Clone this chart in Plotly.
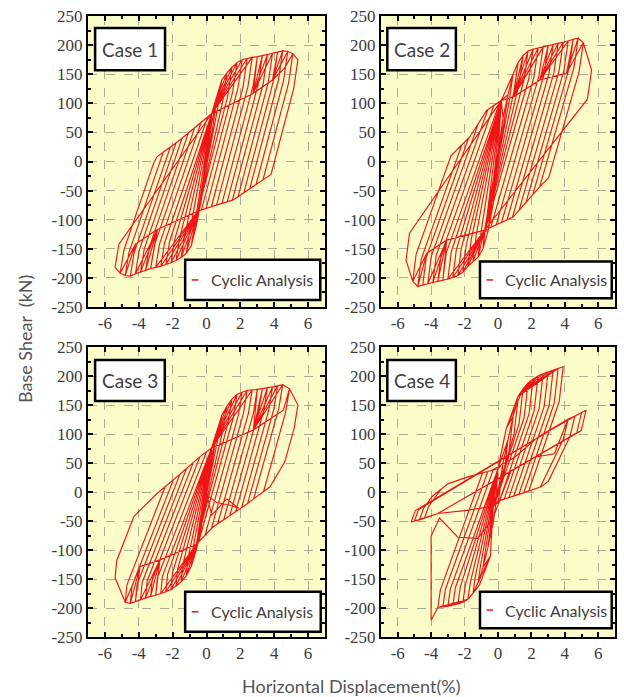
import plotly.graph_objects as go

# ---------------- data ----------------
# Case 1
c1_amp_pos = [0.3, 0.6, 0.9, 1.2, 1.5, 1.8, 2.1, 2.4, 2.7, 3.0, 3.3, 3.6, 3.9, 4.2, 4.5, 4.8, 5.1, 5.4]
c1_f_pos = [65, 105, 140, 152, 162, 170, 175, 177, 179, 180, 182, 184, 186, 188, 190, 189, 185, 175]
c1_amp_neg = [0.3, 0.6, 0.9, 1.2, 1.5, 1.8, 2.1, 2.4, 2.7, 3.0, 3.3, 3.6, 3.9, 4.2, 4.5, 4.8, 5.1, 5.4]
c1_f_neg = [-65, -110, -145, -158, -165, -170, -174, -177, -180, -182, -184, -187, -190, -193, -197, -196, -192, -182]
c1_pinch_pos = (0.3, 82)
c1_pinch_neg = (-0.5, -85)
c1_unl_pos = (200, 50, 110)   # initial slope, force drop of the initial part, later slope
c1_unl_neg = (180, 40, 85)
c1_bound_pos = [(5.2, 20), (3.93, -20), (1.57, -66), (-0.5, -85)]
c1_bound_neg = [(-4.4, -85), (-3.93, -49), (-2.93, 8), (-1.57, 37), (-0.38, 66), (0.3, 82)]
c1_inner_pos = [(2.75, 117), (3.9, 140), (4.6, 160)]
c1_inner_neg = [(-2.9, -117), (-4.2, -142), (-4.9, -165)]

# Case 2
c2_amp_pos = [0.3, 0.6, 0.9, 1.2, 1.5, 1.8, 2.1, 2.4, 2.7, 3.0, 3.3, 3.6, 3.9, 4.2, 4.5, 4.8, 5.1, 5.6]
c2_f_pos = [75, 115, 150, 170, 182, 190, 193, 195, 197, 199, 201, 203, 205, 207, 210, 212, 204, 157]
c2_amp_neg = [0.3, 0.6, 0.9, 1.2, 1.5, 1.8, 2.1, 2.4, 2.7, 3.0, 3.3, 3.6, 3.9, 4.2, 4.5, 4.8, 5.1, 5.5]
c2_f_neg = [-75, -120, -150, -165, -172, -180, -190, -196, -199, -202, -204, -206, -208, -210, -212, -215, -206, -170]
c2_pinch_pos = (0.2, 105)
c2_pinch_neg = (-0.8, -118)
c2_unl_pos = (200, 50, 100)
c2_unl_neg = (230, 47, 81)
c2_bound_pos = [(4.71, 48), (3.9, -3), (2.5, -43), (0.92, -95), (-0.8, -118)]
c2_bound_neg = [(-5.26, -123), (-4.27, -43), (-3.47, -9), (-2.87, 8), (-1.67, 43), (-0.67, 88), (0.2, 105)]
c2_inner_pos = [(0.92, 111), (2.5, 140), (4.1, 152)]
c2_inner_neg = [(-3.07, -135), (-4.27, -158)]

# Case 3
c3_amp_pos = [0.3, 0.6, 0.9, 1.2, 1.5, 1.8, 2.1, 2.4, 2.7, 3.0, 3.3, 3.6, 3.9, 4.2, 4.5, 4.9, 5.4]
c3_f_pos = [60, 100, 132, 148, 160, 168, 172, 175, 176, 177, 178, 180, 181, 183, 185, 178, 150]
c3_amp_neg = [0.3, 0.6, 0.9, 1.2, 1.5, 1.8, 2.1, 2.4, 2.7, 3.0, 3.3, 3.6, 3.9, 4.2, 4.5, 4.8, 5.4]
c3_f_neg = [-60, -100, -128, -145, -155, -162, -168, -172, -175, -178, -180, -183, -186, -189, -192, -190, -148]
c3_pinch_pos = (0.3, 76)
c3_pinch_neg = (-0.6, -90)
c3_unl_pos = (180, 40, 105)
c3_unl_neg = (300, 30, 75)
c3_bound_pos = [(4.93, 67), (3.75, 9), (2.18, -25), (0.4, -60), (-0.6, -90)]
c3_bound_neg = [(-5.3, -117), (-4.32, -43), (-2.94, -3), (-1.96, 21), (-0.38, 61), (0.3, 76)]
c3_inner_pos = [(2.77, 107), (4.54, 141)]
c3_inner_neg = [(-2.75, -117), (-3.93, -129), (-5.1, -152)]
# Case 3: small loop below the origin
c3_notch_d = [0.0, 0.6, 1.3, 1.9, 1.2, 0.3]
c3_notch_f = [-5, -18, -22, -28, -12, -40]

# Case 4 (cycles before the strength drop)
c4_amp_pos = [0.3, 0.6, 0.9, 1.2, 1.5, 1.8, 2.1, 2.4, 2.7, 3.0, 3.3, 3.6, 3.9]
c4_f_pos = [50, 90, 130, 160, 178, 188, 195, 200, 204, 207, 210, 213, 216]
c4_amp_neg = [0.3, 0.6, 0.9, 1.2, 1.5, 1.8, 2.1, 2.4, 2.7, 3.0, 3.3, 3.6, 4.0]
c4_f_neg = [-55, -95, -130, -158, -175, -185, -190, -193, -195, -197, -198, -199, -221]
c4_pinch_pos = (0.0, 40)
c4_pinch_neg = (-0.3, -25)
c4_unl_pos = (250, 60, 85)
c4_unl_neg = (200, 30, 80)
c4_bound_pos = [(3.37, 26), (2.58, 9), (1.38, -3), (0.18, -14), (-0.3, -25)]
c4_bound_neg = [(-3.0, 14), (-1.8, 26), (-0.4, 37), (0.0, 40)]
c4_inner_pos = [(0.5, 110), (1.2, 165)]
c4_inner_neg = [(-0.45, -110), (-1.1, -160), (-1.8, -185)]
# Case 4: strength drop at -4 % and the following path
c4_drop_d = [-4.0, -3.5, -2.4, -1.2, -0.3, 0.78, 2.18, 3.37]
c4_drop_f = [-76, -45, -78, -80, -45, 37, 60, 66]
# Case 4: cycles after the strength drop
c4p_amp_pos = [4.2, 4.6, 5.0, 5.27]
c4p_f_pos = [126, 131, 137, 141]
c4p_amp_neg = [4.4, 4.7, 5.0, 5.2]
c4p_f_neg = [-45, -48, -50, -52]
c4p_pinch_pos = (3.8, 118)
c4p_pinch_neg = (-3.6, -37)
c4p_unl_pos = (120, 35, 60)
c4p_unl_neg = (80, 20, 40)
c4p_bound_pos = [(3.37, 26), (2.58, 9), (1.38, -3), (0.18, -14), (-0.62, -26), (-2.0, -32), (-3.6, -37)]
c4p_bound_neg = [(-4.0, -9), (-3.0, 14), (-1.8, 26), (-0.4, 37), (1.0, 60), (2.4, 95), (3.8, 118)]

case_labels = ["Case 1", "Case 2", "Case 3", "Case 4"]
legend_label = "Cyclic Analysis"
x_ticks = [-6, -4, -2, 0, 2, 4, 6]
y_ticks = [-250, -200, -150, -100, -50, 0, 50, 100, 150, 200, 250]


def unload(d0, f0, unl, side, boundary, pinch):
    """Bilinear unloading branch from a peak until it meets the boundary
    polyline (ordered outer -> pinch), then along it to the pinch."""
    k1, df1, k2 = unl
    dk = d0 - side * df1 / k1
    fk = f0 - side * df1
    pts = [(dk, fk)]
    for j in range(len(boundary) - 1):
        (xa, ya), (xb, yb) = boundary[j], boundary[j + 1]
        den = (yb - ya) - k2 * (xb - xa)
        if den == 0:
            continue
        t = (fk + k2 * (xa - dk) - ya) / den
        if 0 <= t <= 1:
            xi = xa + t * (xb - xa)
            yi = ya + t * (yb - ya)
            if (side > 0 and xi < dk) or (side < 0 and xi > dk):
                return pts + [(xi, yi)] + list(boundary[j + 1:])
    pts.append(pinch)
    return pts


def build_loop(amp_pos, f_pos, amp_neg, f_neg, p_pos, p_neg, unl_pos, unl_neg,
               b_pos, b_neg, inner_pos, inner_neg, last_unload=True, start=(0.0, 0.0)):
    xs, ys = [], []
    if start is not None:
        xs.append(start[0]); ys.append(start[1])
    n = len(amp_pos)
    for i in range(n):
        a, fp = amp_pos[i], f_pos[i]
        if i > 0:
            ap, fpp = amp_pos[i - 1], f_pos[i - 1]
            for d, f in inner_pos:
                if d < ap - 0.2:
                    xs.append(d); ys.append(f)
            xs.append(ap); ys.append(fpp)
        xs.append(a); ys.append(fp)
        for d, f in unload(a, fp, unl_pos, 1, b_pos, p_neg):
            xs.append(d); ys.append(f)
        b, fn = amp_neg[i], f_neg[i]
        if i > 0:
            bp, fnp = amp_neg[i - 1], f_neg[i - 1]
            for d, f in inner_neg:
                if d > -bp + 0.2:
                    xs.append(d); ys.append(f)
            xs.append(-bp); ys.append(fnp)
        else:
            for d, f in inner_neg:
                if d > -b + 0.2:
                    xs.append(d); ys.append(f)
        xs.append(-b); ys.append(fn)
        if i == n - 1 and not last_unload:
            break
        for d, f in unload(-b, fn, unl_neg, -1, b_neg, p_pos):
            xs.append(d); ys.append(f)
    return xs, ys


loops = [
    build_loop(c1_amp_pos, c1_f_pos, c1_amp_neg, c1_f_neg, c1_pinch_pos, c1_pinch_neg,
               c1_unl_pos, c1_unl_neg, c1_bound_pos, c1_bound_neg, c1_inner_pos, c1_inner_neg),
    build_loop(c2_amp_pos, c2_f_pos, c2_amp_neg, c2_f_neg, c2_pinch_pos, c2_pinch_neg,
               c2_unl_pos, c2_unl_neg, c2_bound_pos, c2_bound_neg, c2_inner_pos, c2_inner_neg),
]
x3, y3 = build_loop(c3_amp_pos, c3_f_pos, c3_amp_neg, c3_f_neg, c3_pinch_pos, c3_pinch_neg,
                    c3_unl_pos, c3_unl_neg, c3_bound_pos, c3_bound_neg, c3_inner_pos, c3_inner_neg)
loops.append((c3_notch_d + x3, c3_notch_f + y3))
x4, y4 = build_loop(c4_amp_pos, c4_f_pos, c4_amp_neg, c4_f_neg, c4_pinch_pos, c4_pinch_neg,
                    c4_unl_pos, c4_unl_neg, c4_bound_pos, c4_bound_neg, c4_inner_pos,
                    c4_inner_neg, last_unload=False)
x4p, y4p = build_loop(c4p_amp_pos, c4p_f_pos, c4p_amp_neg, c4p_f_neg, c4p_pinch_pos,
                      c4p_pinch_neg, c4p_unl_pos, c4p_unl_neg, c4p_bound_pos, c4p_bound_neg,
                      [], [], start=None)
loops.append((x4 + c4_drop_d + x4p, y4 + c4_drop_f + y4p))

# ---------------- figure ----------------
W, H = 624, 697
x_domains = [[88 / W, 325 / W], [381 / W, 615 / W], [88 / W, 325 / W], [381 / W, 615 / W]]
y_domains = [[1 - 307 / H, 1 - 16 / H], [1 - 307 / H, 1 - 16 / H],
             [1 - 637 / H, 1 - 347 / H], [1 - 637 / H, 1 - 347 / H]]

fig = go.Figure()
RED = "rgb(240,20,20)"
for k, (xs, ys) in enumerate(loops):
    sfx = "" if k == 0 else str(k + 1)
    fig.add_trace(go.Scatter(x=xs, y=ys, mode="lines", line=dict(color=RED, width=1.15),
                             xaxis="x" + sfx, yaxis="y" + sfx, showlegend=False,
                             hoverinfo="skip"))

tick_font = dict(family="Liberation Serif", size=17, color="#3a3a3a")
grid_col = "rgba(140,150,130,0.75)"
layout = dict(width=W, height=H, margin=dict(l=0, r=0, t=0, b=0, autoexpand=False),
              paper_bgcolor="white", plot_bgcolor="#FCFCC8", showlegend=False)
for k in range(4):
    sfx = "" if k == 0 else str(k + 1)
    layout["xaxis" + sfx] = dict(
        domain=x_domains[k], anchor="y" + sfx, range=[-7, 7], automargin=False,
        tickmode="array", tickvals=x_ticks, ticktext=[str(v) for v in x_ticks],
        ticks="inside", ticklen=5, tickwidth=1.5, tickcolor="black",
        showline=True, linewidth=2, linecolor="black", mirror="ticks",
        showgrid=True, gridcolor=grid_col, griddash="dash", gridwidth=1,
        zeroline=False, tickfont=tick_font,
        minor=dict(ticks="inside", dtick=1, ticklen=3, tickcolor="black", showgrid=False))
    layout["yaxis" + sfx] = dict(
        domain=y_domains[k], anchor="x" + sfx, range=[-250, 250], automargin=False,
        tickmode="array", tickvals=y_ticks, ticktext=[str(v) for v in y_ticks],
        ticks="inside", ticklen=5, tickwidth=1.5, tickcolor="black",
        showline=True, linewidth=2, linecolor="black", mirror="ticks",
        showgrid=True, gridcolor=grid_col, griddash="dash", gridwidth=1,
        zeroline=False, tickfont=tick_font,
        minor=dict(ticks="inside", dtick=25, ticklen=3, tickcolor="black", showgrid=False))
fig.update_layout(**layout)

shapes, annots = [], []
case_box = [(0.03, 0.325, 0.814, 0.959), (0.027, 0.32, 0.814, 0.959),
            (0.03, 0.324, 0.814, 0.955), (0.027, 0.32, 0.814, 0.955)]
leg_box = [(0.41, 0.98, 0.024, 0.162), (0.423, 0.986, 0.03, 0.156),
           (0.41, 0.982, 0.018, 0.156), (0.423, 0.986, 0.03, 0.156)]
for k in range(4):
    sfx = "" if k == 0 else str(k + 1)
    xr, yr = "x" + sfx + " domain", "y" + sfx + " domain"
    x0, x1, y0, y1 = case_box[k]
    shapes.append(dict(type="rect", xref=xr, yref=yr, x0=x0, x1=x1, y0=y0, y1=y1,
                       fillcolor="white", line=dict(color="black", width=2.5), layer="above"))
    annots.append(dict(xref=xr, yref=yr, x=(x0 + x1) / 2, y=(y0 + y1) / 2,
                       xanchor="center", yanchor="middle",
                       text=case_labels[k], showarrow=False,
                       font=dict(family="Lato", size=19, color="#404040")))
    lx0, lx1, ly0, ly1 = leg_box[k]
    shapes.append(dict(type="rect", xref=xr, yref=yr, x0=lx0, x1=lx1, y0=ly0, y1=ly1,
                       fillcolor="white", line=dict(color="black", width=2.5), layer="above"))
    ym = (ly0 + ly1) / 2
    shapes.append(dict(type="line", xref=xr, yref=yr, x0=lx0 + 0.028, x1=lx0 + 0.056,
                       y0=ym, y1=ym, line=dict(color=RED, width=1.5), layer="above"))
    annots.append(dict(xref=xr, yref=yr, x=lx0 + 0.1, y=ym, xanchor="left", yanchor="middle",
                       text=legend_label, showarrow=False,
                       font=dict(family="Lato", size=16, color="#404040")))

annots.append(dict(xref="paper", yref="paper", x=25 / W, y=1 - 339 / H, textangle=-90,
                   xanchor="center", yanchor="middle",
                   text="Base Shear\u00a0 (kN)", showarrow=False,
                   font=dict(family="Lato", size=18, color="#555555")))
annots.append(dict(xref="paper", yref="paper", x=351 / W, y=1 - 686 / H,
                   xanchor="center", yanchor="middle",
                   text="Horizontal Displacement(%)", showarrow=False,
                   font=dict(family="Lato", size=18, color="#555555")))
fig.update_layout(shapes=shapes, annotations=annots)
fig.write_html("out.html", config={"displayModeBar": False},
               post_script="document.body.style.margin='0px';")
